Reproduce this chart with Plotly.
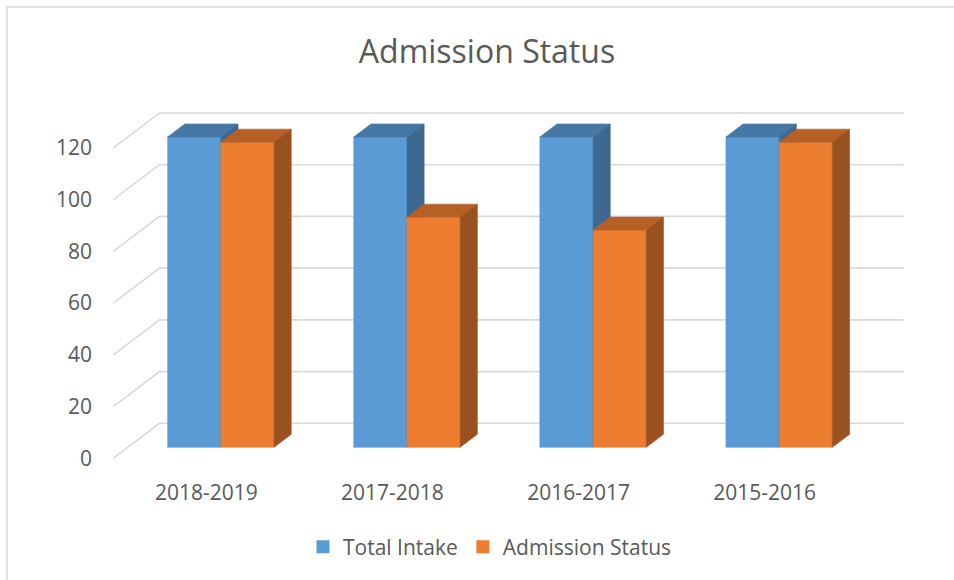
import plotly.graph_objects as go

# ---------------- data ----------------
categories = ["2018-2019", "2017-2018", "2016-2017", "2015-2016"]
total_intake = [120, 120, 120, 120]
admission_status = [118, 89, 84, 118]
y_ticks = [0, 20, 40, 60, 80, 100, 120]
series_names = ["Total Intake", "Admission Status"]
chart_title = "Admission Status"

# ---------------- style / geometry constants ----------------
W, H = 954, 580
PX_PER_CAT = 186.1      # pixels per category step
PX_PER_VAL = 2.586      # pixels per value unit
X0_PX = 206.35          # pixel x of category 0 on the front floor edge
V0_PX = 458.3           # pixel y of value 0 on the front floor edge
SLANT = 1.32            # horizontal px per vertical px of depth (oblique projection)
FLOOR_DEPTH = 35        # depth of floor / side wall (px)
BAR_FRONT = 11          # bar front plane depth (px)
BAR_BACK = 24           # bar back plane depth (px)
BAR_W = 0.286           # bar width in category units

FONT = "Open Sans"
TXT = "#595959"
GRID = "#D9D9D9"
BLUE = dict(front="#5B9BD5", top="#4677A5", side="#3D6891")
ORANGE = dict(front="#ED7D31", top="#B66026", side="#9A5120")

x_range = [-X0_PX / PX_PER_CAT, (W - X0_PX) / PX_PER_CAT]
y_range = [(V0_PX - H) / PX_PER_VAL, V0_PX / PX_PER_VAL]


def proj(x, v, d):
    """Oblique projection of (category x, value v, depth d px) to axis data coords."""
    return x + SLANT * d / PX_PER_CAT, v + d / PX_PER_VAL


def poly_trace(polys, color):
    xs, ys = [], []
    for p in polys:
        for (a, b) in p + [p[0]]:
            xs.append(a)
            ys.append(b)
        xs.append(None)
        ys.append(None)
    return go.Scatter(x=xs, y=ys, mode="lines", fill="toself", fillcolor=color,
                      line=dict(color=color, width=0.6), hoverinfo="skip",
                      showlegend=False)


def bar_faces(left, right, value):
    front = [proj(left, 0, BAR_FRONT), proj(right, 0, BAR_FRONT),
             proj(right, value, BAR_FRONT), proj(left, value, BAR_FRONT)]
    top = [proj(left, value, BAR_FRONT), proj(right, value, BAR_FRONT),
           proj(right, value, BAR_BACK), proj(left, value, BAR_BACK)]
    side = [proj(right, 0, BAR_FRONT), proj(right, 0, BAR_BACK),
            proj(right, value, BAR_BACK), proj(right, value, BAR_FRONT)]
    return front, top, side


fig = go.Figure()

# ---------------- gridlines (side wall + back wall) ----------------
x_lo, x_hi = -0.5, len(categories) - 0.5
gx, gy = [], []
for t in y_ticks:
    for (a, b) in [proj(x_lo, t, 0), proj(x_lo, t, FLOOR_DEPTH), proj(x_hi, t, FLOOR_DEPTH)]:
        gx.append(a)
        gy.append(b)
    gx.append(None)
    gy.append(None)
fig.add_trace(go.Scatter(x=gx, y=gy, mode="lines", line=dict(color=GRID, width=1.6),
                         hoverinfo="skip", showlegend=False))

# ---------------- 3D bars ----------------
for series, colors, side_sign in [(total_intake, BLUE, -1), (admission_status, ORANGE, 1)]:
    fronts, tops, sides = [], [], []
    for i, v in enumerate(series):
        if side_sign < 0:
            left, right = i - BAR_W, i
        else:
            left, right = i, i + BAR_W
        f, t, s = bar_faces(left, right, v)
        fronts.append(f)
        tops.append(t)
        sides.append(s)
    fig.add_trace(poly_trace(fronts, colors["front"]))
    fig.add_trace(poly_trace(tops, colors["top"]))
    fig.add_trace(poly_trace(sides, colors["side"]))

# ---------------- legend entries ----------------
for name, colors in zip(series_names, [BLUE, ORANGE]):
    fig.add_trace(go.Scatter(x=[None], y=[None], mode="markers", name=name,
                             marker=dict(symbol="square", size=13, color=colors["front"])))

fig.update_layout(
    width=W, height=H,
    margin=dict(l=0, r=0, t=0, b=0),
    paper_bgcolor="white", plot_bgcolor="white",
    font=dict(family=FONT, color=TXT, size=21),
    title=dict(text=chart_title, x=487 / W, y=1 - 52 / H, xanchor="center", yanchor="middle",
               font=dict(family=FONT, size=32, color=TXT)),
    showlegend=True,
    legend=dict(orientation="h", x=490 / W, y=1 - 547 / H, xanchor="center", yanchor="middle",
                font=dict(family=FONT, size=21, color=TXT), itemwidth=30,
                bgcolor="rgba(0,0,0,0)"),
    xaxis=dict(range=x_range, domain=[0, 1], anchor="free", position=1 - 478 / H,
               tickmode="array", tickvals=list(range(len(categories))), ticktext=categories,
               showgrid=False, zeroline=False, showline=False, ticks="",
               tickfont=dict(family=FONT, size=21, color=TXT), automargin=False,
               fixedrange=True),
    yaxis=dict(range=y_range, domain=[0, 1], anchor="free", position=92 / W,
               tickmode="array", tickvals=y_ticks,
               showgrid=False, zeroline=False, showline=False, ticks="",
               tickfont=dict(family=FONT, size=21, color=TXT), automargin=False,
               fixedrange=True),
    shapes=[dict(type="rect", xref="paper", yref="paper", x0=7 / W, x1=1.05,
                 y0=-0.05, y1=1 - 7 / H, line=dict(color=GRID, width=1.5),
                 fillcolor="rgba(0,0,0,0)", layer="below")],
)

fig.write_html("out.html", config={"displayModeBar": False},
               post_script="document.body.style.margin='0';document.body.style.overflow='hidden';")
